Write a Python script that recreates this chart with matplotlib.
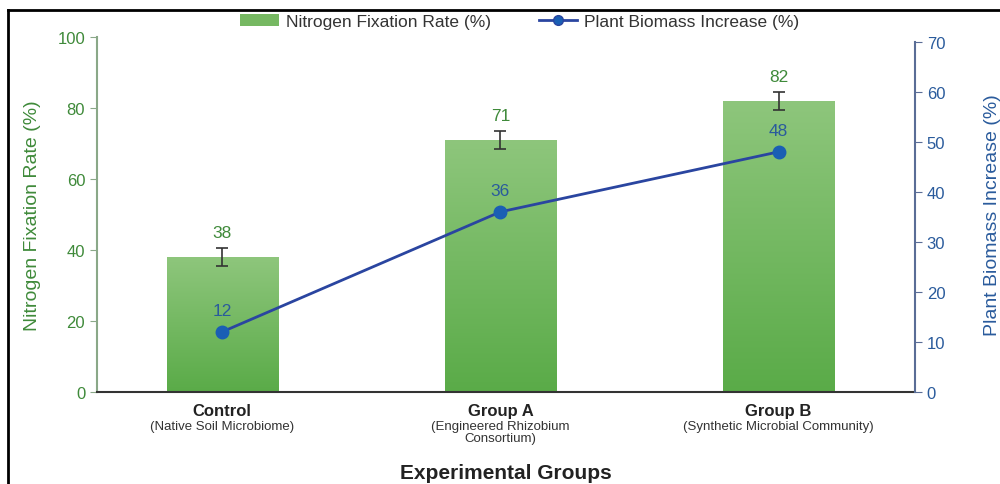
import matplotlib.pyplot as plt
import numpy as np
from matplotlib.colors import LinearSegmentedColormap
from matplotlib.lines import Line2D
from matplotlib.patches import Patch

groups = ["Control", "Group A", "Group B"]
subtitles = ["(Native Soil Microbiome)", "(Engineered Rhizobium\nConsortium)",
             "(Synthetic Microbial Community)"]
fixation = [38, 71, 82]
fixation_err = [2.5, 2.5, 2.5]
biomass = [12, 36, 48]

GREEN_TXT = "#3f8a3a"
BLUE_TXT = "#2a5b9c"
LINE_BLUE = "#2a45a0"
MARKER_BLUE = "#1a5fb4"

plt.rcParams["font.family"] = ["Liberation Sans", "DejaVu Sans"]

fig = plt.figure(figsize=(10, 4.85), dpi=100)
ax = fig.add_axes([0.097, 0.19, 0.818, 0.732])
ax2 = ax.twinx()

x = np.arange(len(groups))
bars = ax.bar(x, fixation, width=0.4, color="#76b862", zorder=2)

# gradient fill for the bars
cmap = LinearSegmentedColormap.from_list("g", ["#5aab48", "#8ec67c"])
grad = np.linspace(0, 1, 256).reshape(-1, 1)
for b in bars:
    b.set_facecolor("none")
    bx, by = b.get_x(), b.get_y()
    im = ax.imshow(grad, cmap=cmap, origin="lower", aspect="auto",
                   extent=[bx, bx + b.get_width(), by, by + b.get_height()], zorder=2)
    im.set_clip_path(b)

ax.errorbar(x, fixation, yerr=fixation_err, fmt="none", ecolor="#333333",
            elinewidth=1.2, capsize=4, capthick=1.2, zorder=3)
for xi, v, e in zip(x, fixation, fixation_err):
    ax.text(xi, v + e + 2.2, str(v), ha="center", va="bottom", fontsize=12.5,
            color=GREEN_TXT)

ax.set_xlim(-0.45, 2.49)
ax.set_ylim(0, 100)
ax.set_yticks([0, 20, 40, 60, 80, 100])
ax.tick_params(axis="y", colors="#8aa888", labelcolor=GREEN_TXT, labelsize=12, length=5)
ax.set_ylabel("Nitrogen Fixation Rate (%)", color=GREEN_TXT, fontsize=14, labelpad=12)

ax.set_xticks(x)
ax.set_xticklabels([""] * len(groups))
ax.tick_params(axis="x", length=0)
for xi, g, s in zip(x, groups, subtitles):
    ax.annotate(g, xy=(xi, 0), xycoords=("data", "axes fraction"), xytext=(0, -8),
                textcoords="offset points", ha="center", va="top", fontsize=12,
                fontweight="bold", color="#222222")
    ax.annotate(s, xy=(xi, 0), xycoords=("data", "axes fraction"), xytext=(0, -20),
                textcoords="offset points", ha="center", va="top", fontsize=9.5,
                color="#333333", linespacing=1.0)
ax.set_xlabel("Experimental Groups", fontsize=15, fontweight="bold", color="#222222",
              labelpad=48)

ax2.plot(x, biomass, color=LINE_BLUE, lw=2, marker="o", markersize=9,
         markerfacecolor=MARKER_BLUE, markeredgecolor=MARKER_BLUE, zorder=4)
for xi, v in zip(x, biomass):
    ax2.text(xi, v + 2.8, str(v), ha="center", va="bottom", fontsize=12.5, color=BLUE_TXT)
ax2.set_ylim(0, 71)
ax2.set_yticks(range(0, 80, 10))
ax2.spines["right"].set_bounds(0, 70)
ax2.tick_params(axis="y", colors="#5a6d96", labelcolor=BLUE_TXT, labelsize=12, length=5)
ax2.set_ylabel("Plant Biomass Increase (%)", color=BLUE_TXT, fontsize=14, labelpad=28)
ax.set_zorder(ax2.get_zorder() - 1)
ax2.patch.set_visible(False)

for a in (ax, ax2):
    a.spines["top"].set_visible(False)
ax.spines["right"].set_visible(False)
ax2.spines["left"].set_visible(False)
ax2.spines["bottom"].set_visible(False)
ax.spines["left"].set_color("#8aa888")
ax.spines["left"].set_linewidth(1.5)
ax2.spines["right"].set_color("#5a6d96")
ax2.spines["right"].set_linewidth(1.5)
ax.spines["bottom"].set_color("#333333")
ax.spines["bottom"].set_linewidth(1.5)

handles = [Patch(facecolor="#76b862", label="Nitrogen Fixation Rate (%)"),
           Line2D([0], [0], color=LINE_BLUE, lw=2, marker="o", markersize=7,
                  markerfacecolor=MARKER_BLUE, label="Plant Biomass Increase (%)")]
fig.legend(handles=handles, loc="center", bbox_to_anchor=(0.52, 0.953), ncol=2,
           frameon=False, fontsize=12.5, handlelength=2.2, handletextpad=0.4,
           columnspacing=2.8, labelcolor="#333333")

# partial frame around the figure
fig.add_artist(Line2D([0.008, 1.0], [1 - 11 / 485, 1 - 11 / 485], color="black",
                      lw=2, transform=fig.transFigure))
fig.add_artist(Line2D([0.008, 0.008], [0, 1 - 11 / 485], color="black",
                      lw=2, transform=fig.transFigure))

fig.savefig("out.png", dpi=100)
